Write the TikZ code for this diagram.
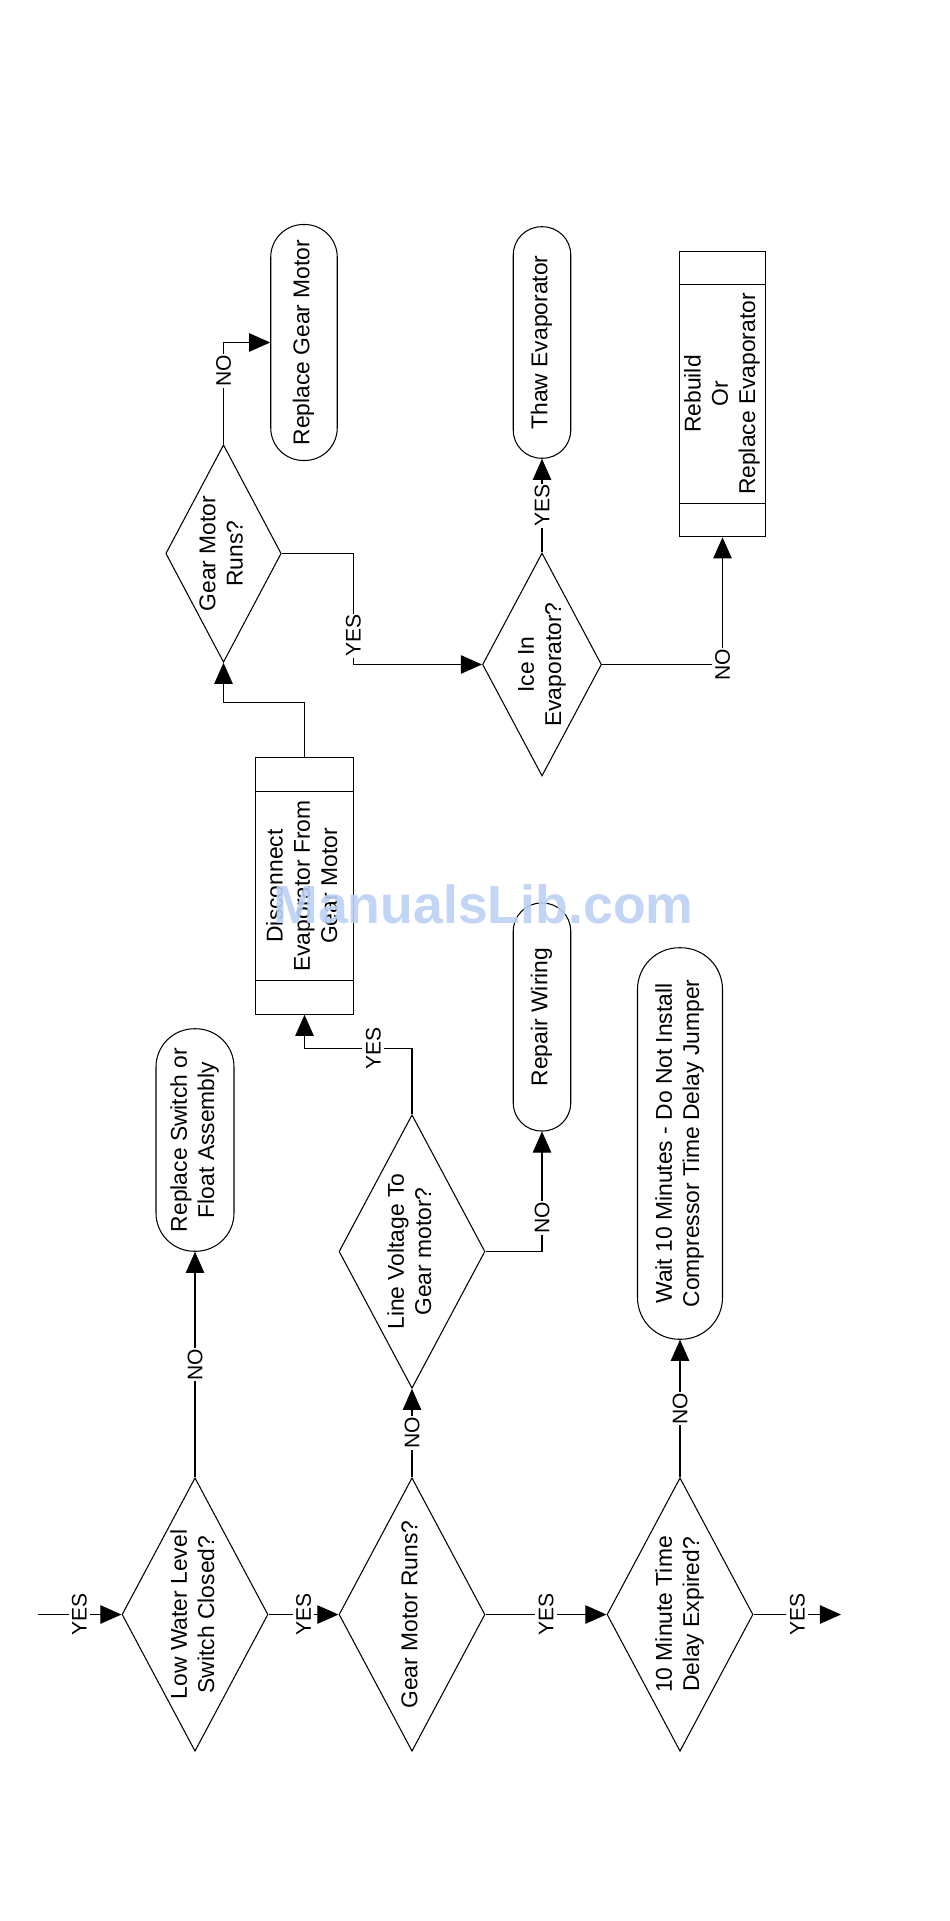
\documentclass[tikz,border=0pt]{standalone}
\usepackage{fontspec}
\setmainfont{Liberation Sans}
\usetikzlibrary{shapes.geometric,arrows.meta}

\definecolor{markblue}{RGB}{187,208,243}
\newcommand{\uptext}[1]{\rotatebox{90}{\begin{tabular}{@{}c@{}}#1\end{tabular}}}

\tikzset{
  decision/.style 2 args={draw, diamond, aspect=0.53, inner sep=-2pt, minimum width=#1, minimum height=#2},
  terminal/.style 2 args={draw, rectangle, inner sep=0pt, rounded corners=0.49*#1, minimum width=#1, minimum height=#2},
  process/.style 2 args={draw, rectangle, inner sep=0pt, minimum width=#1, minimum height=#2},
  flow/.style={-{Triangle[length=12pt,width=10.5pt]}},
  answer/.style={fill=white, rotate=90, inner xsep=0.5pt, inner ysep=2pt, font=\fontsize{12}{14}\selectfont}
}

\begin{document}
\begin{tikzpicture}[line width=0.6pt, font=\fontsize{13}{15.5}\selectfont]
  \useasboundingbox (0cm,0cm) rectangle (19cm,-38.42cm);
  \node[decision={2.92cm}{5.47cm}] (lowwater) at (3.90cm,-32.29cm) {\uptext{Low Water Level\\Switch Closed?}};
  \node[decision={2.92cm}{5.47cm}] (gearruns) at (8.24cm,-32.29cm) {\uptext{Gear Motor Runs?}};
  \node[decision={2.92cm}{5.47cm}] (timedelay) at (13.60cm,-32.29cm) {\uptext{10 Minute Time\\Delay Expired?}};
  \node[decision={2.92cm}{5.47cm}] (linevolt) at (8.24cm,-25.03cm) {\uptext{Line Voltage To\\Gear motor?}};
  \node[decision={2.31cm}{4.35cm}] (gearruns2) at (4.47cm,-11.07cm) {\uptext{Gear Motor\\Runs?}};
  \node[decision={2.38cm}{4.46cm}] (icein) at (10.84cm,-13.29cm) {\uptext{Ice In\\Evaporator?}};
  \node[terminal={1.56cm}{4.45cm}] (switchrepl) at (3.90cm,-22.80cm) {\uptext{Replace Switch or\\Float Assembly}};
  \node[terminal={1.15cm}{4.56cm}] (repwiring) at (10.84cm,-20.34cm) {\uptext{Repair Wiring}};
  \node[terminal={1.70cm}{7.83cm}] (waitmin) at (13.60cm,-22.87cm) {\uptext{Wait 10 Minutes - Do Not Install\\Compressor Time Delay Jumper}};
  \node[terminal={1.33cm}{4.72cm}] (replgear) at (6.08cm,-6.85cm) {\uptext{Replace Gear Motor}};
  \node[terminal={1.15cm}{4.63cm}] (thaw) at (10.84cm,-6.85cm) {\uptext{Thaw Evaporator}};
  \node[process={1.95cm}{5.13cm}] (disconnect) at (6.09cm,-17.72cm) {\uptext{Disconnect\\Evaporator From\\Gear Motor}};
  \node[process={1.72cm}{5.71cm}] (rebuild) at (14.45cm,-7.88cm) {\uptext{Rebuild\\Or\\Replace Evaporator}};
  \draw (disconnect.north west) ++(0,-0.68cm) -- ++(1.95cm,0);
  \draw (disconnect.south west) ++(0,0.68cm) -- ++(1.95cm,0);
  \draw (rebuild.north west) ++(0,-0.67cm) -- ++(1.72cm,0);
  \draw (rebuild.south west) ++(0,0.67cm) -- ++(1.72cm,0);
  \coordinate (start) at (0.75cm,-32.29cm);
  \coordinate (finish) at (16.82cm,-32.29cm);
  \draw[flow] (start) -- node[answer] {YES} (lowwater.west);
  \draw[flow] (lowwater.east) -- node[answer] {YES} (gearruns.west);
  \draw[flow] (gearruns.east) -- node[answer] {YES} (timedelay.west);
  \draw[flow] (timedelay.east) -- node[answer] {YES} (finish);
  \draw[flow] (lowwater.north) -- node[answer] {NO} (switchrepl.south);
  \draw[flow] (gearruns.north) -- node[answer] {NO} (linevolt.south);
  \draw[flow] (timedelay.north) -- node[answer] {NO} (waitmin.south);
  \draw[flow] (linevolt.north) -- ++(0,1.32cm) -| node[answer, pos=0.18] {YES} (disconnect.south);
  \draw[flow] (linevolt.east) -| node[answer, pos=0.64] {NO} (repwiring.south);
  \draw[flow] (disconnect.north) -- ++(0,1.09cm) -| (gearruns2.south);
  \draw[flow] (gearruns2.north) |- node[answer, pos=0.36] {NO} (replgear.west);
  \draw[flow] (gearruns2.east) -- ++(1.43cm,0) |- node[answer, pos=0.37] {YES} (icein.west);
  \draw[flow] (icein.north) -- node[answer] {YES} (thaw.south);
  \draw[flow] (icein.east) -| node[answer, pos=0.5] {NO} (rebuild.south);
  \node[text=markblue, opacity=0.9, font=\bfseries\fontsize{30.5}{36}\selectfont] (mark) at (9.67cm,-18.08cm) {ManualsLib.com};
\end{tikzpicture}
\end{document}
